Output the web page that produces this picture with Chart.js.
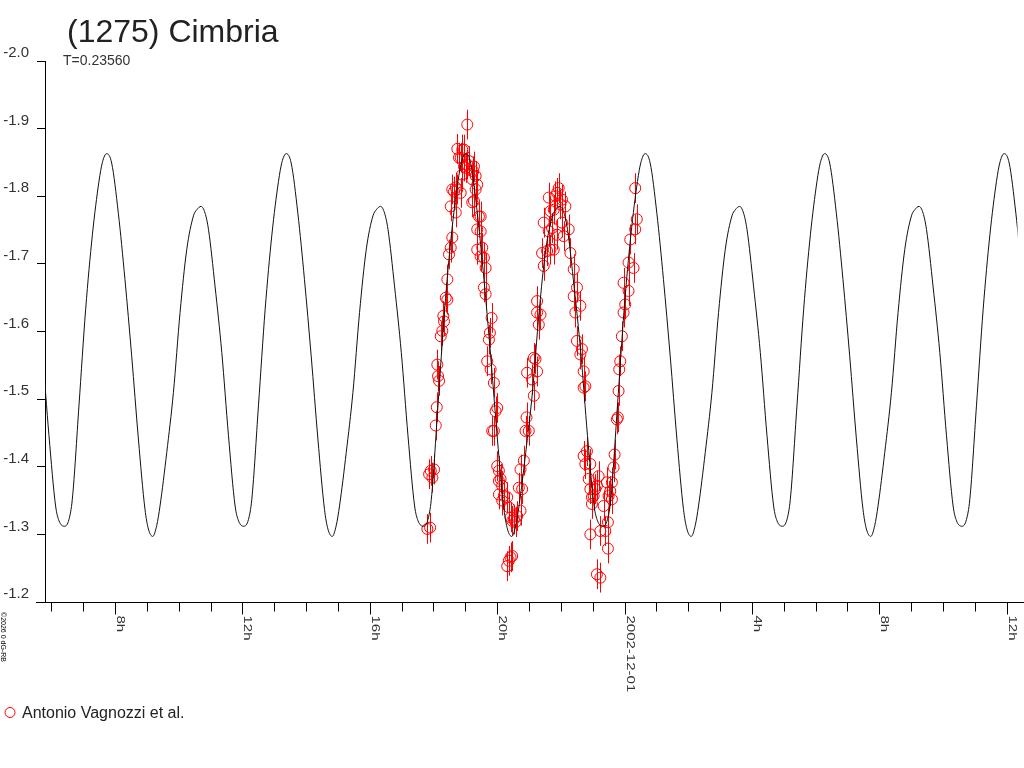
<!DOCTYPE html>
<html lang="en">
<head>
  <meta charset="UTF-8">
  <title>(1275) Cimbria</title>
  <script src="https://cdn.jsdelivr.net/npm/chart.js"></script>
  <style>
    html, body { margin: 0; padding: 0; background: #FFFFFF; }
    canvas { display: block; }
  </style>
</head>
<body>
  <canvas id="grafico" width="1024" height="768"></canvas>

  <script>
    const FONTE = "Arial, 'Liberation Sans', sans-serif";

    const titulo = "(1275) Cimbria";
    const subtitulo = "T=0.23560";
    const observador = "Antonio Vagnozzi et al.";
    const copyright = "\u00a92026 0 dG-RB";

    // time in hours from 2002-12-01 00:00, magnitude of the fitted curve
    const fitHoras = [
      -18.495, -18.285, -18.075, -17.867, -17.759, -17.584, -17.448, -17.342, -17.134, -16.923, -16.712, -16.505, -16.398,
      -16.264, -16.106, -15.897, -15.689, -15.478, -15.267, -15.060, -14.953, -14.817, -14.692, -14.588,
      -14.377, -14.167, -13.959, -13.749, -13.538, -13.434, -13.299, -13.173, -13.066, -12.858, -12.648,
      -12.438, -12.230, -12.122, -11.947, -11.811, -11.705, -11.497, -11.286, -11.075, -10.868, -10.761,
      -10.627, -10.469, -10.260, -10.052, -9.841, -9.630, -9.423, -9.316, -9.180, -9.055, -8.951,
      -8.740, -8.530, -8.322, -8.112, -7.901, -7.797, -7.662, -7.536, -7.429, -7.221, -7.011,
      -6.801, -6.593, -6.485, -6.310, -6.174, -6.068, -5.860, -5.649, -5.438, -5.231, -5.124,
      -4.990, -4.832, -4.623, -4.415, -4.204, -3.993, -3.786, -3.679, -3.543, -3.418, -3.314,
      -3.103, -2.893, -2.685, -2.475, -2.264, -2.160, -2.025, -1.899, -1.792, -1.584, -1.374,
      -1.164, -0.956, -0.848, -0.673, -0.537, -0.431, -0.223, -0.012, 0.199, 0.406, 0.513,
      0.647, 0.805, 1.014, 1.222, 1.433, 1.644, 1.851, 1.958, 2.094, 2.219, 2.323,
      2.534, 2.744, 2.952, 3.162, 3.373, 3.477, 3.612, 3.738, 3.845, 4.053, 4.263,
      4.473, 4.681, 4.789, 4.964, 5.100, 5.206, 5.414, 5.625, 5.836, 6.043, 6.150,
      6.284, 6.442, 6.651, 6.859, 7.070, 7.281, 7.488, 7.595, 7.731, 7.856, 7.960,
      8.171, 8.381, 8.589, 8.799, 9.010, 9.114, 9.249, 9.375, 9.482, 9.690, 9.900,
      10.110, 10.318, 10.426, 10.601, 10.737, 10.843, 11.051, 11.262, 11.473, 11.680, 11.787,
      11.921, 12.079, 12.288, 12.496
    ];
    const fitMag = [
      -1.666, -1.569, -1.446, -1.342, -1.320, -1.312, -1.322, -1.352, -1.490, -1.633, -1.743, -1.822, -1.850,
      -1.863, -1.849, -1.775, -1.677, -1.564, -1.441, -1.337, -1.308, -1.297, -1.313, -1.342,
      -1.421, -1.510, -1.628, -1.721, -1.771, -1.780, -1.785, -1.775, -1.751, -1.666, -1.569,
      -1.446, -1.342, -1.320, -1.312, -1.322, -1.352, -1.490, -1.633, -1.743, -1.822, -1.850,
      -1.863, -1.849, -1.775, -1.677, -1.564, -1.441, -1.337, -1.308, -1.297, -1.313, -1.342,
      -1.421, -1.510, -1.628, -1.721, -1.771, -1.780, -1.785, -1.775, -1.751, -1.666, -1.569,
      -1.446, -1.342, -1.320, -1.312, -1.322, -1.352, -1.490, -1.633, -1.743, -1.822, -1.850,
      -1.863, -1.849, -1.775, -1.677, -1.564, -1.441, -1.337, -1.308, -1.297, -1.313, -1.342,
      -1.421, -1.510, -1.628, -1.721, -1.771, -1.780, -1.785, -1.775, -1.751, -1.666, -1.569,
      -1.446, -1.342, -1.320, -1.312, -1.322, -1.352, -1.490, -1.633, -1.743, -1.822, -1.850,
      -1.863, -1.849, -1.775, -1.677, -1.564, -1.441, -1.337, -1.308, -1.297, -1.313, -1.342,
      -1.421, -1.510, -1.628, -1.721, -1.771, -1.780, -1.785, -1.775, -1.751, -1.666, -1.569,
      -1.446, -1.342, -1.320, -1.312, -1.322, -1.352, -1.490, -1.633, -1.743, -1.822, -1.850,
      -1.863, -1.849, -1.775, -1.677, -1.564, -1.441, -1.337, -1.308, -1.297, -1.313, -1.342,
      -1.421, -1.510, -1.628, -1.721, -1.771, -1.780, -1.785, -1.775, -1.751, -1.666, -1.569,
      -1.446, -1.342, -1.320, -1.312, -1.322, -1.352, -1.490, -1.633, -1.743, -1.822, -1.850,
      -1.863, -1.849, -1.775, -1.677
    ];

    // observations (hours, magnitude)
    const obsHoras = [
      -6.192, -6.107, -6.138, -6.085, -6.035, -5.982, -5.929, -5.897, -5.879, -5.857,
      -5.825, -5.772, -5.722, -5.691, -5.669, -5.615, -5.565, -5.565, -5.512, -5.459,
      -5.409, -5.459, -5.409, -5.355, -5.302, -5.302, -5.252, -5.252, -5.199, -5.146,
      -5.146, -5.096, -5.096, -5.042, -5.042, -4.989, -4.939, -4.939, -4.886, -4.751,
      -4.729, -4.676, -4.782, -4.626, -4.676, -4.729, -4.782, -4.573, -4.519, -4.626,
      -4.519, -4.626, -4.469, -4.519, -4.416, -4.363, -4.416, -4.363, -4.175, -4.228,
      -4.259, -4.313, -4.206, -4.103, -3.999, -4.050, -4.103, -4.156, -3.999, -3.946,
      -3.893, -3.946, -3.843, -3.946, -3.790, -3.843, -3.686, -3.633, -3.580, -3.530,
      -3.476, -3.423, -3.373, -3.580, -3.530, -3.633, -3.686, -3.267, -3.216, -3.320,
      -3.267, -3.163, -3.110, -3.079, -3.007, -3.060, -2.903, -2.850, -2.850, -2.797,
      -2.747, -2.693, -2.640, -2.747, -2.747, -2.537, -2.590, -2.433, -2.327, -2.537,
      -2.380, -2.224, -2.277, -2.120, -2.224, -2.327, -2.380, -2.170, -2.120, -2.067,
      -1.964, -2.014, -1.857, -1.964, -1.754, -1.910, -1.701, -1.597, -1.494, -1.597,
      -1.387, -1.544, -1.494, -1.337, -1.387, -1.284, -1.284, -1.231, -1.181, -1.284,
      -1.231, -1.074, -1.127, -1.074, -1.024, -0.971, -0.918, -0.868, -0.814, -1.024,
      -1.074, -0.761, -0.604, -0.658, -0.523, -0.523, -0.554, -0.501, -0.448, -0.398,
      -0.398, -0.344, -0.313, -0.868, -0.761, -0.241, -0.210, -0.188, -0.166, -0.135,
      -0.085, -0.031, 0.022, 0.125, -0.031, 0.125, 0.282, 0.179, 0.335, 0.385,
      0.335
    ];
    const obsMag = [
      -1.308, -1.310, -1.389, -1.394, -1.384, -1.396, -1.461, -1.488, -1.551, -1.534,
      -1.527, -1.593, -1.601, -1.623, -1.615, -1.650, -1.647, -1.677, -1.714, -1.724,
      -1.739, -1.785, -1.810, -1.807, -1.776, -1.813, -1.810, -1.870, -1.857, -1.805,
      -1.857, -1.869, -1.832, -1.869, -1.844, -1.842, -1.906, -1.847, -1.852, -1.837,
      -1.844, -1.830, -1.825, -1.817, -1.810, -1.793, -1.791, -1.770, -1.770, -1.751,
      -1.748, -1.721, -1.724, -1.711, -1.709, -1.694, -1.665, -1.655, -1.620, -1.598,
      -1.588, -1.556, -1.544, -1.524, -1.487, -1.482, -1.453, -1.453, -1.401, -1.394,
      -1.382, -1.379, -1.372, -1.359, -1.357, -1.350, -1.355, -1.340, -1.325, -1.320,
      -1.322, -1.318, -1.327, -1.266, -1.268, -1.261, -1.253, -1.335, -1.367, -1.369,
      -1.396, -1.409, -1.453, -1.473, -1.453, -1.539, -1.529, -1.505, -1.561, -1.559,
      -1.541, -1.610, -1.625, -1.628, -1.645, -1.697, -1.716, -1.719, -1.721, -1.761,
      -1.748, -1.721, -1.753, -1.743, -1.780, -1.778, -1.798, -1.800, -1.805, -1.812,
      -1.795, -1.788, -1.785, -1.761, -1.751, -1.741, -1.716, -1.692, -1.665, -1.652,
      -1.638, -1.628, -1.586, -1.574, -1.566, -1.541, -1.517, -1.519, -1.423, -1.416,
      -1.404, -1.404, -1.382, -1.367, -1.355, -1.357, -1.367, -1.372, -1.386, -1.345,
      -1.300, -1.305, -1.305, -1.342, -1.318, -1.279, -1.377, -1.357, -1.364, -1.352,
      -1.377, -1.399, -1.418, -1.241, -1.236, -1.470, -1.473, -1.512, -1.544, -1.556,
      -1.593, -1.628, -1.640, -1.660, -1.672, -1.702, -1.694, -1.736, -1.751, -1.766,
      -1.812
    ];
    const erroMag = 0.022;

    const rotuloHoras = [-16, -12, -8, -4, 0, 4, 8, 12];
    const rotuloTextos = ["8h", "12h", "16h", "20h", "2002-12-01", "4h", "8h", "12h"];

    const decoracao = {
      id: "decoracao",
      beforeDatasetsDraw(chart) {
        // error bars under the circles
        const { ctx, scales: { x, y } } = chart;
        ctx.save();
        ctx.strokeStyle = "#ff0000";
        ctx.lineWidth = 1;
        ctx.beginPath();
        obsHoras.forEach((h, i) => {
          const px = Math.round(x.getPixelForValue(h)) + 0.5;
          ctx.moveTo(px, y.getPixelForValue(obsMag[i] - erroMag));
          ctx.lineTo(px, y.getPixelForValue(obsMag[i] + erroMag));
        });
        ctx.stroke();
        ctx.restore();
      },
      afterDraw(chart) {
        const { ctx, chartArea, scales: { x } } = chart;
        const base = Math.round(chartArea.bottom) + 0.5;
        ctx.save();

        // x axis with hour ticks
        ctx.strokeStyle = "#000";
        ctx.lineWidth = 1;
        ctx.beginPath();
        ctx.moveTo(36, base);
        ctx.lineTo(1024, base);
        for (let h = Math.ceil(x.min); h <= x.max; h++) {
          const px = Math.round(x.getPixelForValue(h)) + 0.5;
          ctx.moveTo(px, base);
          ctx.lineTo(px, base + (h % 4 === 0 ? 12 : 9));
        }
        ctx.stroke();

        // rotated hour labels, glyphs a little flattened as in the original
        ctx.fillStyle = "#333";
        ctx.font = "15px " + FONTE;
        ctx.textAlign = "left";
        ctx.textBaseline = "alphabetic";
        rotuloHoras.forEach((h, i) => {
          const px = Math.round(x.getPixelForValue(h));
          ctx.save();
          ctx.translate(px + 1.5, base + 13);
          ctx.rotate(Math.PI / 2);
          ctx.scale(1, 0.75);
          ctx.fillText(rotuloTextos[i], 0, 0);
          ctx.restore();
        });

        // title block
        ctx.fillStyle = "#222";
        ctx.font = "32px " + FONTE;
        ctx.fillText(titulo, 67, 42);
        ctx.fillStyle = "#333";
        ctx.font = "14px " + FONTE;
        ctx.fillText(subtitulo, 63, 65);

        // legend
        ctx.strokeStyle = "#ff0000";
        ctx.beginPath();
        ctx.arc(10, 712.5, 5, 0, Math.PI * 2);
        ctx.stroke();
        ctx.fillStyle = "#222";
        ctx.font = "16px " + FONTE;
        ctx.fillText(observador, 22, 718);

        // small vertical copyright
        ctx.save();
        ctx.translate(1, 612);
        ctx.rotate(Math.PI / 2);
        ctx.font = "7px " + FONTE;
        ctx.fillStyle = "#000";
        ctx.fillText(copyright, 0, 0);
        ctx.restore();

        ctx.restore();
      }
    };

    new Chart(document.getElementById("grafico"), {
      type: "scatter",
      data: {
        datasets: [
          {
            type: "line",
            label: "fit",
            data: fitHoras.map((h, i) => ({ x: h, y: fitMag[i] })),
            borderColor: "#111",
            borderWidth: 1,
            pointRadius: 0,
            cubicInterpolationMode: "monotone",
            fill: false
          },
          {
            label: observador,
            data: obsHoras.map((h, i) => ({ x: h, y: obsMag[i] })),
            pointStyle: "circle",
            pointRadius: 5.5,
            borderColor: "#ff0000",
            backgroundColor: "rgba(0,0,0,0)",
            borderWidth: 1
          }
        ]
      },
      options: {
        responsive: false,
        animation: false,
        devicePixelRatio: 1,
        layout: { padding: { top: 61, right: 4, bottom: 166, left: 0 } },
        plugins: { legend: { display: false }, tooltip: { enabled: false } },
        scales: {
          x: { type: "linear", min: -18.2, max: 12.34, display: false },
          y: {
            type: "linear",
            reverse: true,
            min: -2.0,
            max: -1.2,
            afterFit(s) { s.width = 45; },
            ticks: {
              stepSize: 0.1,
              padding: 8,
              labelOffset: -8,
              color: "#333",
              font: { family: FONTE, size: 15 },
              callback: v => v.toFixed(1)
            },
            grid: { drawOnChartArea: false, drawTicks: true, tickLength: 8, color: "#000" },
            border: { display: true, color: "#000" }
          }
        }
      },
      plugins: [decoracao]
    });
  </script>
</body>
</html>
